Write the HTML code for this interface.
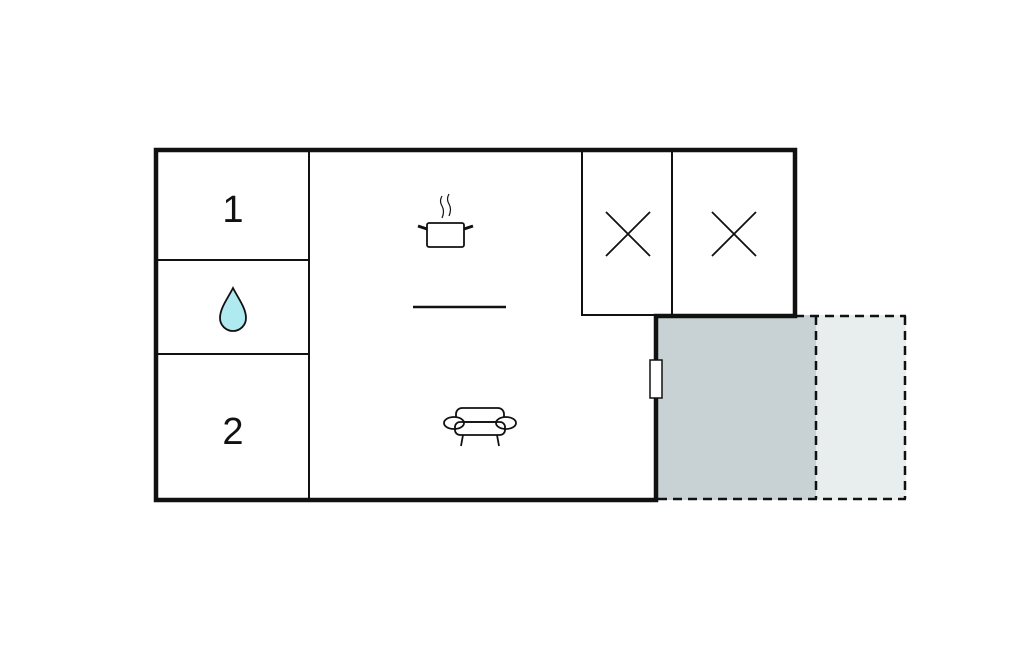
<!DOCTYPE html>
<html><head><style>body{margin:0;background:#fff}svg{display:block}</style></head><body>
<svg width="1024" height="652" viewBox="0 0 1024 652" xmlns="http://www.w3.org/2000/svg">
<rect x="656" y="315" width="160" height="185" fill="#c8d2d4"/>
<rect x="816" y="315" width="90" height="185" fill="#e8eeee"/>
<g stroke="#111" stroke-width="2.5" stroke-dasharray="9,6" fill="none">
<line x1="795" y1="316" x2="906" y2="316"/>
<line x1="658" y1="499" x2="906" y2="499"/>
<line x1="816" y1="316" x2="816" y2="499"/>
<line x1="905" y1="316" x2="905" y2="499"/>
</g>
<g stroke="#111" fill="none">
<path d="M156,150 H795 V316 H656 V500 H156 Z" stroke-width="4.5"/>
<line x1="309" y1="150" x2="309" y2="500" stroke-width="2"/>
<line x1="156" y1="260" x2="309" y2="260" stroke-width="2"/>
<line x1="156" y1="354" x2="309" y2="354" stroke-width="2"/>
<path d="M582,150 V315 H656" stroke-width="2"/>
<line x1="672" y1="150" x2="672" y2="315" stroke-width="2"/>
<path d="M606,212 L650,256 M650,212 L606,256" stroke-width="1.8"/>
<path d="M712,212 L756,256 M756,212 L712,256" stroke-width="1.8"/>
<line x1="413" y1="307" x2="506" y2="307" stroke-width="2.5"/>
</g>
<rect x="650" y="360" width="12" height="38" fill="#fff" stroke="#111" stroke-width="1.5"/>
<text x="233" y="222" font-family="Liberation Sans, sans-serif" font-size="38" text-anchor="middle" fill="#111">1</text>
<text x="233" y="444" font-family="Liberation Sans, sans-serif" font-size="38" text-anchor="middle" fill="#111">2</text>
<path d="M233,288 C228,298 220,308 220,318 A13,13 0 0 0 246,318 C246,308 238,298 233,288 Z" fill="#aeeaf0" stroke="#111" stroke-width="1.8"/>
<g stroke="#111" fill="none" stroke-width="1.8">
<rect x="427" y="223" width="37" height="24" rx="2"/>
<path d="M427,229 L418,226 M464,229 L473,226" stroke-width="3"/>
<path d="M442,196 q-3,5 0,10 q3,5 0,12 M449,194 q-3,5 0,10 q3,5 0,12" stroke-width="1.2"/>
<rect x="456" y="408" width="48" height="14" rx="6"/>
<ellipse cx="454" cy="423" rx="10" ry="6" fill="#fff"/>
<ellipse cx="506" cy="423" rx="10" ry="6" fill="#fff"/>
<rect x="455" y="422" width="50" height="13" rx="5"/>
<path d="M463,435 L461,446 M497,435 L499,446"/>
</g>
</svg>
</body></html>
